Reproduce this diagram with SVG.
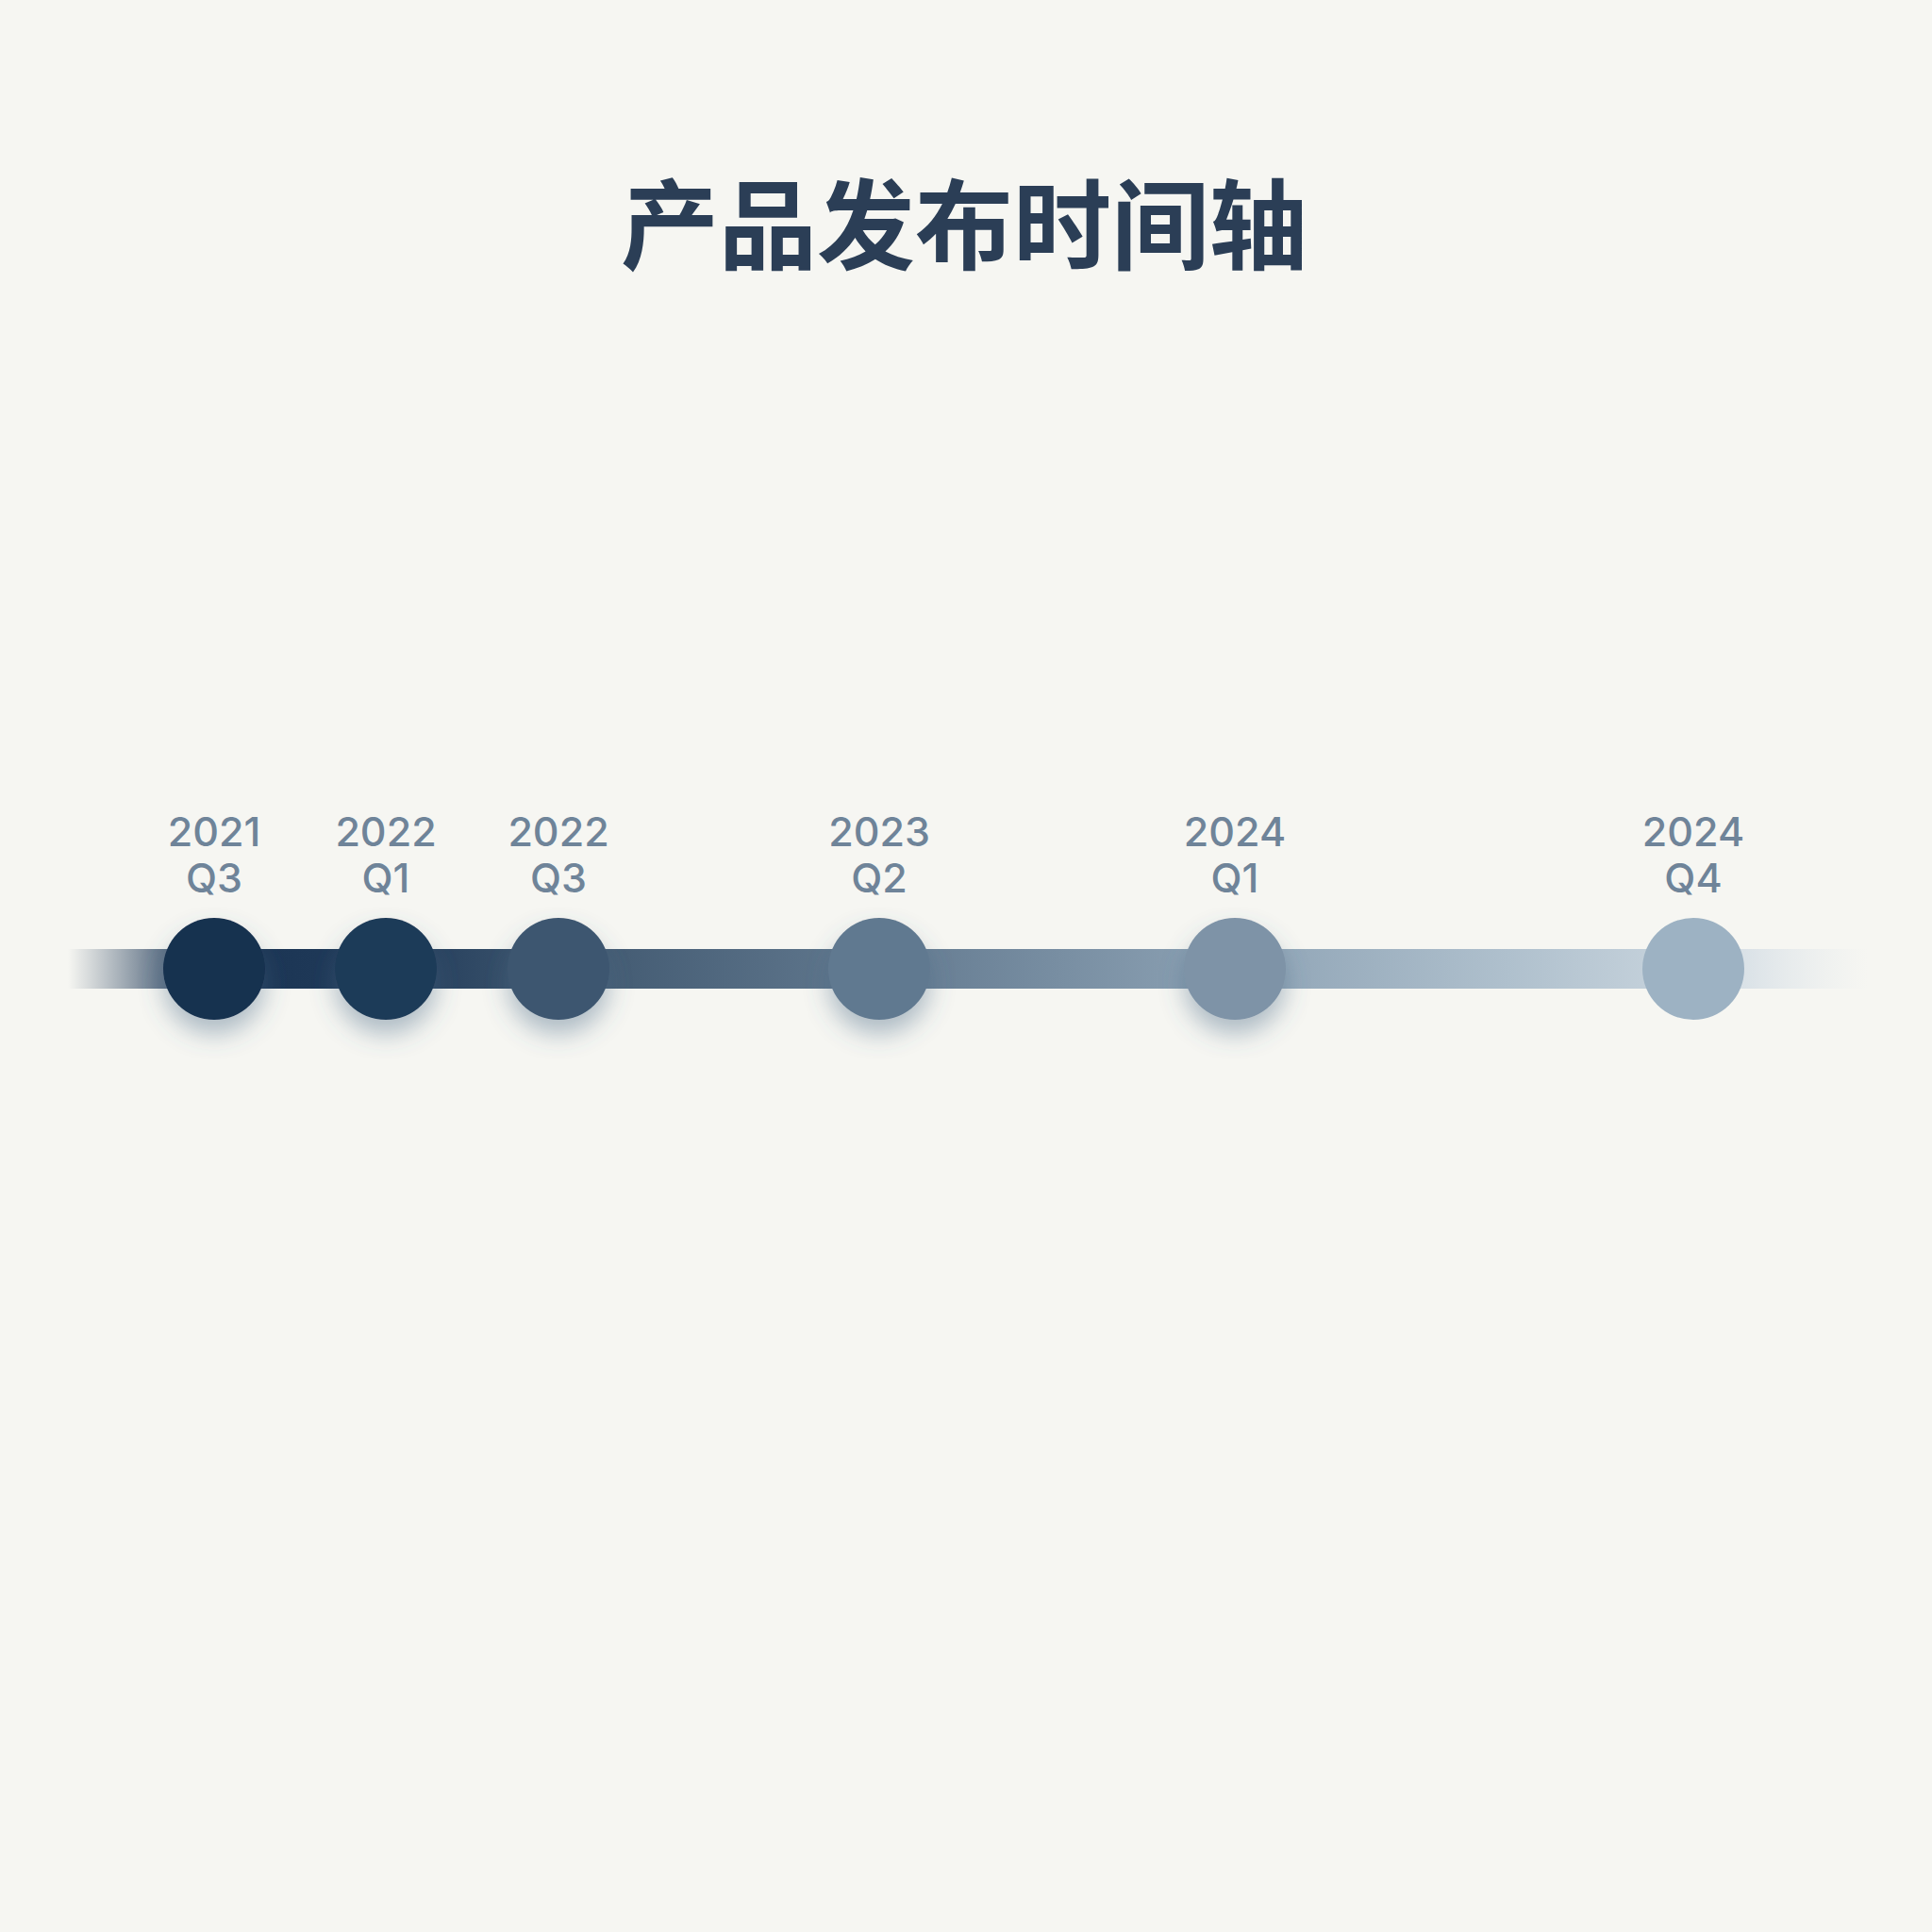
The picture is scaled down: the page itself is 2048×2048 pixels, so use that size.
<svg xmlns="http://www.w3.org/2000/svg" width="2048" height="2048" viewBox="0 0 2048 2048">
  <defs>
    <linearGradient id="lineGrad" gradientUnits="userSpaceOnUse" x1="72" y1="0" x2="1980" y2="0">
      <stop offset="0" stop-color="#3a5068" stop-opacity="0"/>
      <stop offset="0.05" stop-color="#2a4360" stop-opacity="0.7"/>
      <stop offset="0.085" stop-color="#1a3453" stop-opacity="1"/>
      <stop offset="0.18" stop-color="#213b5a"/>
      <stop offset="0.27" stop-color="#3e566e"/>
      <stop offset="0.45" stop-color="#62798f"/>
      <stop offset="0.65" stop-color="#8ea3b5"/>
      <stop offset="0.80" stop-color="#afc0cd"/>
      <stop offset="0.88" stop-color="#c3d0da"/>
      <stop offset="0.93" stop-color="#d2dce4" stop-opacity="0.8"/>
      <stop offset="1" stop-color="#e2e8ec" stop-opacity="0"/>
    </linearGradient>
    <filter id="shadow" x="-60%" y="-60%" width="220%" height="240%">
      <feDropShadow dx="0" dy="15" stdDeviation="13" flood-color="#4a6884" flood-opacity="0.42"/>
    </filter>
  </defs>
  <style>
    .title { font-family: "Noto Sans CJK SC", "Noto Sans", sans-serif; font-weight: 700; font-size: 104px; fill: #2b3e56; }
    .label { font-family: Inter, "Liberation Sans", sans-serif; font-weight: 500; font-size: 43px; fill: #6f8499; text-anchor: middle; }
    .node circle { filter: url(#shadow); }
  </style>
  <rect width="2048" height="2048" fill="#f6f6f2"/>
  <text class="title" x="1022" y="278" text-anchor="middle">产品发布时间轴</text>

  <g id="connectors">
    <rect x="72" y="1006" width="1908" height="42" fill="url(#lineGrad)"/>
  </g>

  <g id="node-2021Q3" class="node">
    <circle cx="227" cy="1027" r="54" fill="#17304f"/>
    <text class="label" x="227" y="897">2021</text>
    <text class="label" x="227" y="946">Q3</text>
  </g>
  <g id="node-2022Q1" class="node">
    <circle cx="409" cy="1027" r="54" fill="#1f3a58"/>
    <text class="label" x="409" y="897">2022</text>
    <text class="label" x="409" y="946">Q1</text>
  </g>
  <g id="node-2022Q3" class="node">
    <circle cx="592" cy="1027" r="54" fill="#3d5670"/>
    <text class="label" x="592" y="897">2022</text>
    <text class="label" x="592" y="946">Q3</text>
  </g>
  <g id="node-2023Q2" class="node">
    <circle cx="932" cy="1027" r="54" fill="#617990"/>
    <text class="label" x="932" y="897">2023</text>
    <text class="label" x="932" y="946">Q2</text>
  </g>
  <g id="node-2024Q1" class="node">
    <circle cx="1309" cy="1027" r="54" fill="#7e93a7"/>
    <text class="label" x="1309" y="897">2024</text>
    <text class="label" x="1309" y="946">Q1</text>
  </g>
  <g id="node-2024Q4" class="node">
    <circle cx="1795" cy="1027" r="54" fill="#9db2c3" style="filter:none"/>
    <text class="label" x="1795" y="897">2024</text>
    <text class="label" x="1795" y="946">Q4</text>
  </g>
</svg>
